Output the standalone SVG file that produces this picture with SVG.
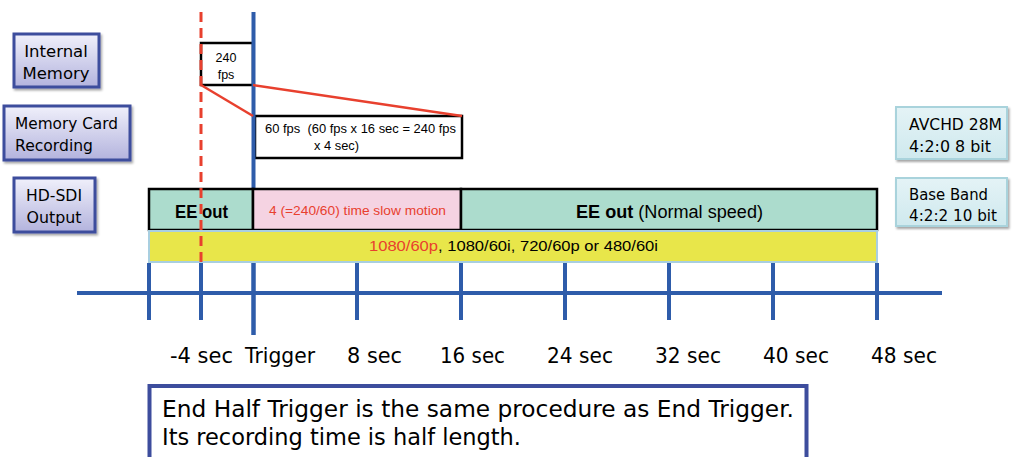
<svg xmlns="http://www.w3.org/2000/svg" width="1014" height="457" viewBox="0 0 1014 457">
  <style>
    .lbl { font-family: "DejaVu Sans", Verdana, sans-serif; fill: #000; }
    .cal { font-family: "Liberation Sans", Arial, sans-serif; fill: #000; }
    .side { fill: url(#sideFill); stroke: #3d4d9d; stroke-width: 3; filter: url(#shadow); }
    .fmt { fill: url(#fmtFill); stroke: #a9d3dc; stroke-width: 2; filter: url(#shadow); }
    .seg { stroke: #000; stroke-width: 2.5; }
    .blue { stroke: #2e5caa; stroke-width: 4; fill: none; }
    .red { stroke: #e8402e; stroke-width: 2.5; fill: none; }
  </style>
  <defs>
    <linearGradient id="sideFill" x1="0" y1="0" x2="0" y2="1">
      <stop offset="0" stop-color="#f0f0fb"/>
      <stop offset="1" stop-color="#b3b3dd"/>
    </linearGradient>
    <linearGradient id="fmtFill" x1="0" y1="0" x2="0" y2="1">
      <stop offset="0" stop-color="#e4f3f6"/>
      <stop offset="1" stop-color="#cfe9ee"/>
    </linearGradient>
    <filter id="shadow" x="-10%" y="-10%" width="130%" height="140%">
      <feDropShadow dx="1.5" dy="2" stdDeviation="1.2" flood-color="#000" flood-opacity="0.35"/>
    </filter>
  </defs>

  <!-- row labels on the left -->
  <g id="internal-memory">
    <rect class="side" x="14" y="34" width="85" height="53"/>
    <text class="lbl" x="56" y="57" font-size="16.5" text-anchor="middle">Internal</text>
    <text class="lbl" x="56" y="79" font-size="16.5" text-anchor="middle">Memory</text>
  </g>
  <g id="memory-card">
    <rect class="side" x="4" y="106" width="126" height="54"/>
    <text class="lbl" x="15" y="129" font-size="16.5" textLength="103" lengthAdjust="spacingAndGlyphs">Memory Card</text>
    <text class="lbl" x="15" y="151" font-size="16.5" textLength="78" lengthAdjust="spacingAndGlyphs">Recording</text>
  </g>
  <g id="hd-sdi">
    <rect class="side" x="14" y="178" width="81" height="54"/>
    <text class="lbl" x="54" y="201" font-size="16.5" text-anchor="middle" textLength="56" lengthAdjust="spacingAndGlyphs">HD-SDI</text>
    <text class="lbl" x="54" y="223" font-size="16.5" text-anchor="middle" textLength="55" lengthAdjust="spacingAndGlyphs">Output</text>
  </g>

  <!-- format boxes on the right -->
  <g id="avchd">
    <rect class="fmt" x="896" y="107" width="111" height="52"/>
    <text class="lbl" x="909" y="130" font-size="15.5" textLength="93" lengthAdjust="spacingAndGlyphs">AVCHD 28M</text>
    <text class="lbl" x="909" y="152" font-size="15.5" textLength="82" lengthAdjust="spacingAndGlyphs">4:2:0 8 bit</text>
  </g>
  <g id="baseband">
    <rect class="fmt" x="896" y="178" width="111" height="48"/>
    <text class="lbl" x="909" y="200" font-size="15.5" textLength="79" lengthAdjust="spacingAndGlyphs">Base Band</text>
    <text class="lbl" x="909" y="221" font-size="15.5" textLength="88" lengthAdjust="spacingAndGlyphs">4:2:2 10 bit</text>
  </g>

  <!-- buffered frames -->
  <g id="buffer-240">
    <rect x="201" y="43" width="52" height="42" fill="#fff" stroke="#000" stroke-width="2.5"/>
    <text class="cal" x="226" y="62" font-size="12.5" text-anchor="middle">240</text>
    <text class="cal" x="226" y="79" font-size="12.5" text-anchor="middle">fps</text>
  </g>
  <g id="record-60">
    <rect x="255" y="116" width="207" height="42" fill="#fff" stroke="#000" stroke-width="2.5"/>
    <text class="cal" x="265" y="133" font-size="13" textLength="191" lengthAdjust="spacingAndGlyphs" xml:space="preserve">60 fps  (60 fps x 16 sec = 240 fps</text>
    <text class="cal" x="314" y="150" font-size="13" textLength="45" lengthAdjust="spacingAndGlyphs">x 4 sec)</text>
  </g>

  <!-- trigger marker: over the frame boxes, beneath the output segments -->
  <line id="trigger" class="blue" x1="253.5" y1="12" x2="253.5" y2="335" stroke-width="4.5"/>

  <!-- HD-SDI output segments -->
  <g id="ee-out-pre">
    <rect class="seg" x="149" y="189" width="104" height="41" fill="#acdccd"/>
    <text class="cal" x="175" y="218" font-size="17.5" font-weight="bold" textLength="53" lengthAdjust="spacingAndGlyphs">EE out</text>
  </g>
  <g id="slow-motion">
    <rect class="seg" x="253" y="189" width="208" height="41" fill="#f5d3e2"/>
    <text class="cal" x="269" y="215" font-size="13" style="fill:#e8402e" textLength="177" lengthAdjust="spacingAndGlyphs">4 (=240/60) time slow motion</text>
  </g>
  <g id="ee-out-normal">
    <rect class="seg" x="461" y="189" width="416" height="41" fill="#acdccd"/>
    <text class="cal" x="576" y="218" font-size="17.5" textLength="187" lengthAdjust="spacingAndGlyphs"><tspan font-weight="bold">EE out</tspan> (Normal speed)</text>
  </g>
  <g id="video-formats">
    <rect x="149" y="231" width="728" height="31" fill="#e8e64a" stroke="#a9cfe0" stroke-width="2"/>
    <text class="cal" x="369" y="251" font-size="15" textLength="289" lengthAdjust="spacingAndGlyphs"><tspan style="fill:#e8402e">1080/60p</tspan>, 1080/60i, 720/60p or 480/60i</text>
  </g>

  <!-- time axis -->
  <g id="axis">
    <line class="blue" x1="77" y1="293" x2="942" y2="293"/>
    <line class="blue" x1="149" y1="263" x2="149" y2="320"/>
    <line class="blue" x1="201" y1="263" x2="201" y2="320"/>
    <line class="blue" x1="253.5" y1="263" x2="253.5" y2="335" stroke-width="4.5"/>
    <line class="blue" x1="357" y1="263" x2="357" y2="320"/>
    <line class="blue" x1="461" y1="263" x2="461" y2="320"/>
    <line class="blue" x1="565" y1="263" x2="565" y2="320"/>
    <line class="blue" x1="669" y1="263" x2="669" y2="320"/>
    <line class="blue" x1="773" y1="263" x2="773" y2="320"/>
    <line class="blue" x1="877" y1="263" x2="877" y2="320"/>
    <text class="lbl" x="170" y="363" font-size="20.5" textLength="63" lengthAdjust="spacingAndGlyphs">-4 sec</text>
    <text class="lbl" x="245" y="363" font-size="20.5" textLength="70" lengthAdjust="spacingAndGlyphs">Trigger</text>
    <text class="lbl" x="347" y="363" font-size="20.5" textLength="55" lengthAdjust="spacingAndGlyphs">8 sec</text>
    <text class="lbl" x="440" y="363" font-size="20.5" textLength="65" lengthAdjust="spacingAndGlyphs">16 sec</text>
    <text class="lbl" x="547" y="363" font-size="20.5" textLength="66" lengthAdjust="spacingAndGlyphs">24 sec</text>
    <text class="lbl" x="655" y="363" font-size="20.5" textLength="66" lengthAdjust="spacingAndGlyphs">32 sec</text>
    <text class="lbl" x="763" y="363" font-size="20.5" textLength="66" lengthAdjust="spacingAndGlyphs">40 sec</text>
    <text class="lbl" x="871" y="363" font-size="20.5" textLength="66" lengthAdjust="spacingAndGlyphs">48 sec</text>
  </g>

  <!-- markers and expansion lines -->
  <g id="connectors">
    <line class="red" x1="201" y1="85" x2="253" y2="116"/>
    <line class="red" x1="253" y1="85" x2="462" y2="116"/>
    <line id="pre-trigger" x1="201" y1="12" x2="201" y2="266" stroke="#e8402e" stroke-width="3" stroke-dasharray="10 6"/>
  </g>

  <!-- note -->
  <g id="note">
    <rect x="149.5" y="386" width="657" height="80" fill="#fff" stroke="#3d4d9d" stroke-width="4"/>
    <text class="lbl" x="162" y="417" font-size="23" textLength="632" lengthAdjust="spacingAndGlyphs">End Half Trigger is the same procedure as End Trigger.</text>
    <text class="lbl" x="162" y="445" font-size="23" textLength="359" lengthAdjust="spacingAndGlyphs">Its recording time is half length.</text>
  </g>
</svg>
